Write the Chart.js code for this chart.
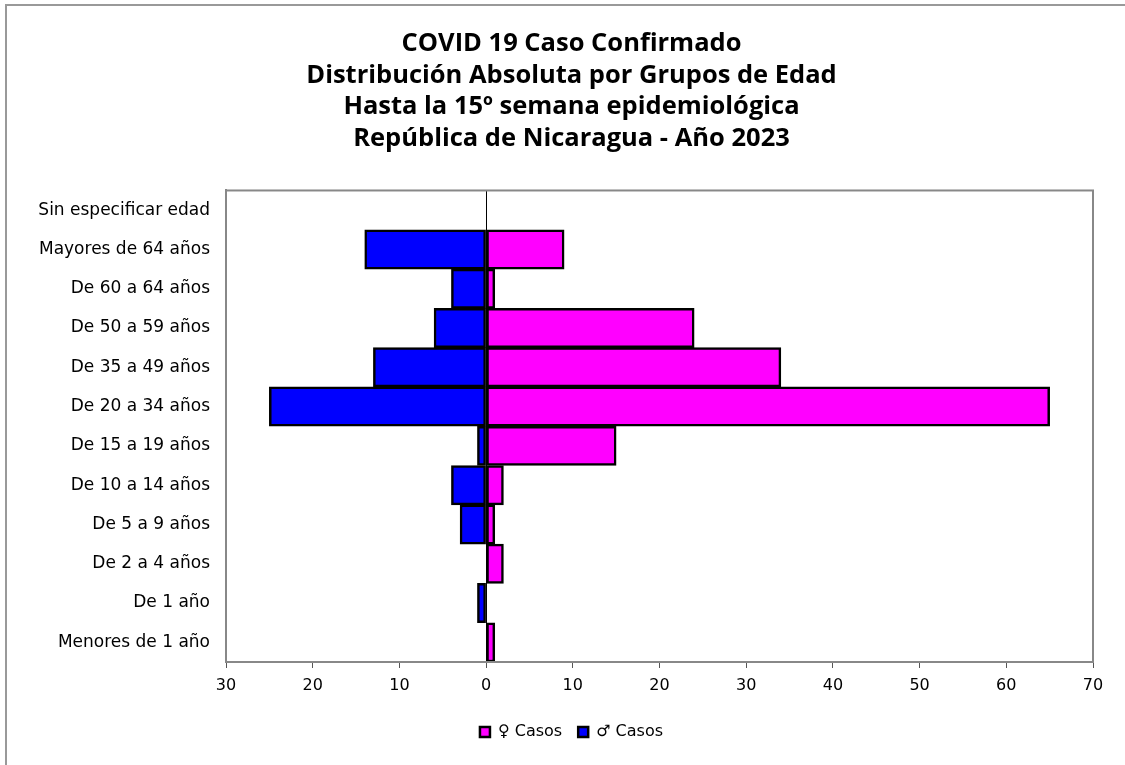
<!DOCTYPE html>
<html>
<head>
<meta charset="utf-8">
<script src="https://cdn.jsdelivr.net/npm/chart.js@4.4.1/dist/chart.umd.min.js"></script>
<style>
    html, body { margin: 0; padding: 0; background: #fff; }
    #wrap { position: relative; width: 1125px; height: 765px; }
</style>
</head>
<body>
<div id="wrap"><canvas id="myChart" width="1125" height="765"></canvas></div>
<script>
    // grupos de edad, de arriba hacia abajo
    var categorias = ['Sin especificar edad', 'Mayores de 64 años', 'De 60 a 64 años', 'De 50 a 59 años',
        'De 35 a 49 años', 'De 20 a 34 años', 'De 15 a 19 años', 'De 10 a 14 años', 'De 5 a 9 años',
        'De 2 a 4 años', 'De 1 año', 'Menores de 1 año'];
    var casosFemenino = [0, 9, 1, 24, 34, 65, 15, 2, 1, 2, 0, 1];
    var casosMasculino = [0, 14, 4, 6, 13, 25, 1, 4, 3, 0, 1, 0];
    var ticksX = [-30, -20, -10, 0, 10, 20, 30, 40, 50, 60, 70];

    var titulo = ['COVID 19 Caso Confirmado', 'Distribución Absoluta por Grupos de Edad',
        'Hasta la 15º semana epidemiológica', 'República de Nicaragua - Año 2023'];

    var fuenteTitulo = "'Open Sans', 'DejaVu Sans', sans-serif";
    var fuente = "'DejaVu Sans', sans-serif";

    // borde del area de trazado y marco exterior
    var marcoPlugin = {
        id: 'marco',
        afterLayout: function (chart) {
            // que las etiquetas del eje y no se recorten con el padding izquierdo
            chart.scales.y.left = 0;
        },
        afterDatasetsDraw: function (chart) {
            var ctx = chart.ctx, a = chart.chartArea;
            ctx.save();
            ctx.strokeStyle = '#888';
            ctx.lineWidth = 2;
            ctx.strokeRect(a.left, a.top, a.right - a.left, a.bottom - a.top);
            ctx.strokeStyle = '#999';
            ctx.beginPath();
            ctx.moveTo(6, 765);
            ctx.lineTo(6, 5);
            ctx.lineTo(1125, 5);
            ctx.stroke();
            ctx.restore();
        }
    };

    const ctx = document.getElementById('myChart').getContext('2d');
    const myChart = new Chart(ctx, {
        type: 'bar',
        data: {
            labels: categorias,
            datasets: [{
                label: '♀ Casos',
                data: casosFemenino,
                backgroundColor: '#ff00ff',
                borderColor: '#000',
                borderWidth: 2.5,
                borderSkipped: false
            }, {
                label: '♂ Casos',
                data: casosMasculino.map(function (v) { return -v; }),
                backgroundColor: '#0000ff',
                borderColor: '#000',
                borderWidth: 2.5,
                borderSkipped: false
            }]
        },
        options: {
            indexAxis: 'y',
            responsive: false,
            animation: false,
            devicePixelRatio: 1,
            layout: { padding: { left: 50, right: 32, top: 0, bottom: 15 } },
            datasets: { bar: { categoryPercentage: 1, barPercentage: 1 } },
            plugins: {
                title: {
                    display: true,
                    text: titulo,
                    color: '#000',
                    font: { family: fuenteTitulo, size: 25.5, weight: 'bold', lineHeight: 1.24 },
                    padding: { top: 28, bottom: 36 }
                },
                legend: {
                    position: 'bottom',
                    labels: {
                        color: '#000',
                        font: { family: fuente, size: 16 },
                        boxWidth: 10,
                        boxHeight: 10,
                        padding: 16
                    }
                },
                tooltip: { enabled: false }
            },
            scales: {
                x: {
                    stacked: true,
                    min: -30,
                    max: 70,
                    afterBuildTicks: function (scale) {
                        scale.ticks = ticksX.map(function (v) { return { value: v }; });
                    },
                    afterFit: function (scale) { scale.height = 46; },
                    ticks: {
                        color: '#000',
                        font: { family: fuente, size: 16 },
                        padding: 8,
                        maxRotation: 0,
                        callback: function (v) { return Math.abs(v); }
                    },
                    grid: {
                        drawOnChartArea: true,
                        tickLength: 6,
                        tickColor: '#555',
                        color: function (c) { return c.tick && c.tick.value === 0 ? '#000' : 'rgba(0,0,0,0)'; },
                        lineWidth: 1
                    },
                    border: { color: '#555', width: 2 }
                },
                y: {
                    stacked: true,
                    afterFit: function (scale) { scale.width = 176; },
                    ticks: {
                        color: '#000',
                        font: { family: fuente, size: 17 },
                        padding: 16
                    },
                    grid: { display: false, drawTicks: false },
                    border: { color: '#888', width: 2 }
                }
            }
        },
        plugins: [marcoPlugin]
    });
</script>
</body>
</html>
